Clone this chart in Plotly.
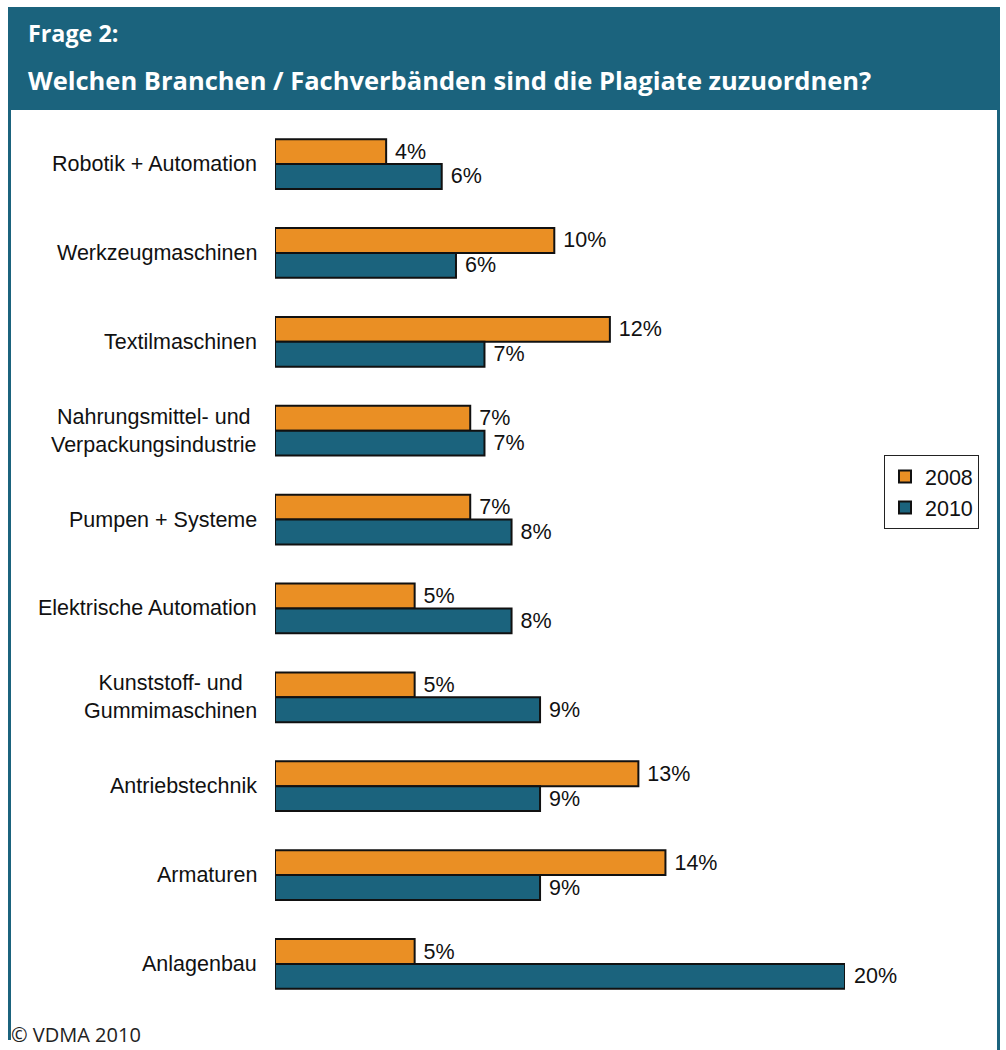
import plotly.graph_objects as go

W, H = 1006, 1050

categories = [
    "Robotik + Automation",
    "Werkzeugmaschinen",
    "Textilmaschinen",
    "Nahrungsmittel- und<br>Verpackungsindustrie",
    "Pumpen + Systeme",
    "Elektrische Automation",
    "Kunststoff- und<br>Gummimaschinen",
    "Antriebstechnik",
    "Armaturen",
    "Anlagenbau",
]
values_2008 = [3.9, 9.8, 11.75, 6.85, 6.85, 4.9, 4.9, 12.75, 13.7, 4.9]
values_2010 = [5.85, 6.35, 7.35, 7.35, 8.3, 8.3, 9.3, 9.3, 9.3, 20.0]
labels_2008 = ["4%", "10%", "12%", "7%", "7%", "5%", "5%", "13%", "14%", "5%"]
labels_2010 = ["6%", "6%", "7%", "7%", "8%", "8%", "9%", "9%", "9%", "20%"]

ORANGE = "#EA8F24"
BLUE = "#1B637D"
LABEL_FONT = "Liberation Sans, Arial, sans-serif"


def px(x):
    return x / W


def py(y):
    return 1 - y / H


fig = go.Figure()
for name, vals, labs, col in [
    ("2008", values_2008, labels_2008, ORANGE),
    ("2010", values_2010, labels_2010, BLUE),
]:
    fig.add_trace(go.Bar(
        name=name,
        y=categories,
        x=vals,
        orientation="h",
        marker=dict(color=col, line=dict(color="#111111", width=2)),
        text=["\u00a0" + t for t in labs],
        textposition="outside",
        textfont=dict(family=LABEL_FONT, size=21.5, color="#111111"),
        constraintext="none",
        cliponaxis=False,
        hoverinfo="skip",
    ))

annotations = []
for c in categories:
    annotations.append(dict(
        x=px(259), xref="paper", y=c, yref="y",
        text=c, showarrow=False, xanchor="right", yanchor="middle",
        align="center",
        font=dict(family=LABEL_FONT, size=21.5, color="#111111"),
    ))

annotations += [
    dict(x=px(26), y=py(33), xref="paper", yref="paper", text="<b>Frage 2:</b>",
         showarrow=False, xanchor="left", yanchor="middle",
         font=dict(family="Open Sans, Noto Sans, sans-serif", size=23.3, color="white")),
    dict(x=px(26), y=py(80), xref="paper", yref="paper",
         text="<b>Welchen Branchen / Fachverbänden sind die Plagiate zuzuordnen?</b>",
         showarrow=False, xanchor="left", yanchor="middle",
         font=dict(family="Open Sans, Noto Sans, sans-serif", size=25.5, color="white")),
    dict(x=px(10), y=py(1049), xref="paper", yref="paper", text="© VDMA 2010",
         showarrow=False, xanchor="left", yanchor="bottom", borderpad=0,
         font=dict(family="Open Sans, Noto Sans, sans-serif", size=20, color="#222222")),
]

shapes = [
    dict(type="rect", xref="paper", yref="paper", x0=px(8), x1=px(1000), y0=py(110), y1=py(7),
         fillcolor=BLUE, line=dict(width=0), layer="below"),
    dict(type="line", xref="paper", yref="paper", x0=px(9.5), x1=px(9.5), y0=py(7), y1=py(1040),
         line=dict(color=BLUE, width=3)),
    dict(type="line", xref="paper", yref="paper", x0=px(998.5), x1=px(998.5), y0=py(7), y1=py(1050),
         line=dict(color=BLUE, width=3)),
]

fig.update_layout(
    width=W, height=H,
    margin=dict(l=0, r=0, t=0, b=0),
    paper_bgcolor="white", plot_bgcolor="white",
    barmode="group", bargap=0.44, bargroupgap=0,
    xaxis=dict(domain=[px(275), px(845)], range=[0, 20], visible=False, fixedrange=True),
    yaxis=dict(domain=[py(1008.4), py(119.6)], autorange="reversed",
               showticklabels=False, showgrid=False, zeroline=False, ticks="", fixedrange=True),
    legend=dict(x=px(884), y=py(455), xanchor="left", yanchor="top",
                bgcolor="white", bordercolor="#222222", borderwidth=1,
                traceorder="normal", itemwidth=30,
                font=dict(family=LABEL_FONT, size=21.5, color="#111111")),
    showlegend=True,
    annotations=annotations,
    shapes=shapes,
)

fig.write_html(
    "out.html",
    config={"displayModeBar": False},
    post_script="document.body.style.margin='0';document.body.style.overflow='hidden';",
)
